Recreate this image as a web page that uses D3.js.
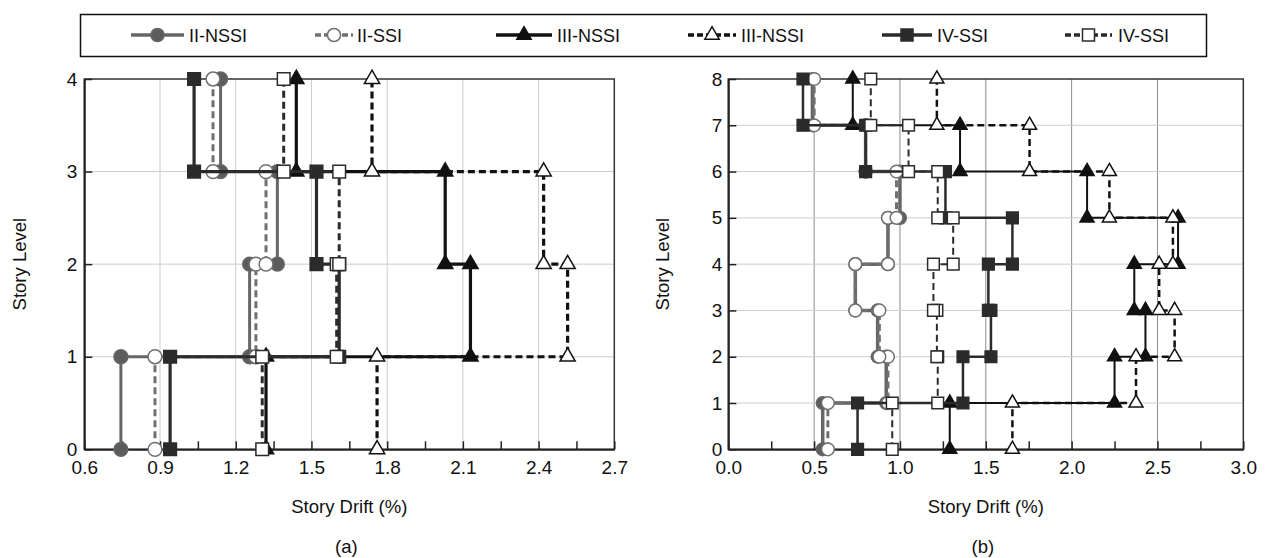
<!DOCTYPE html>
<html>
<head>
<meta charset="utf-8">
<script src="https://cdn.jsdelivr.net/npm/d3@7"></script>
<style>
  body { margin: 0; background: #fff; }
  text { font-family: "Liberation Sans", Arial, sans-serif; fill: #111; }
</style>
</head>
<body>
<svg id="chart" width="1269" height="558"></svg>
<script>
// legend labels (as printed in the original figure)
const seriesNames = ["II-NSSI", "II-SSI", "III-NSSI", "III-NSSI", "IV-SSI", "IV-SSI"];

// (a) 4-story frames: drift (%) of story 1..4
const aII_NSSI  = [0.745, 1.255, 1.365, 1.14];
const aII_SSI   = [0.88, 1.28, 1.32, 1.11];
const aIII_NSSI = [1.32, 2.13, 2.03, 1.44];
const aIII_SSI  = [1.76, 2.515, 2.42, 1.74];
const aIV_NSSI  = [0.94, 1.61, 1.52, 1.035];
const aIV_SSI   = [1.305, 1.60, 1.61, 1.39];

// (b) 8-story frames: drift (%) of story 1..8
const bII_NSSI  = [0.55, 0.92, 0.87, 0.74, 0.93, 1.00, 0.80, 0.49];
const bII_SSI   = [0.58, 0.93, 0.88, 0.74, 0.93, 0.98, 0.80, 0.50];
const bIII_NSSI = [1.29, 2.25, 2.43, 2.365, 2.62, 2.09, 1.35, 0.725];
const bIII_SSI  = [1.655, 2.375, 2.60, 2.51, 2.59, 2.22, 1.755, 1.215];
const bIV_NSSI  = [0.753, 1.367, 1.53, 1.515, 1.655, 1.265, 0.80, 0.435];
const bIV_SSI   = [0.955, 1.22, 1.215, 1.195, 1.31, 1.22, 1.05, 0.83];

// tick labels
const xTicksA = [0.6, 0.9, 1.2, 1.5, 1.8, 2.1, 2.4, 2.7];
const xTicksB = [0.0, 0.5, 1.0, 1.5, 2.0, 2.5, 3.0];
const levelsA = [0, 1, 2, 3, 4];
const levelsB = [0, 1, 2, 3, 4, 5, 6, 7, 8];

// look of each series (same order as seriesNames)
const styles = [
  { color: "#666", fill: "#5c5c5c", dash: null,  sym: d3.symbolCircle },
  { color: "#707070", fill: "#fff", dash: "7,4", sym: d3.symbolCircle },
  { color: "#111", fill: "#111", dash: null,     sym: d3.symbolTriangle },
  { color: "#111", fill: "#fff", dash: "7,4",    sym: d3.symbolTriangle },
  { color: "#2b2b2b", fill: "#2b2b2b", dash: null, sym: d3.symbolSquare },
  { color: "#2b2b2b", fill: "#fff", dash: "7,4", sym: d3.symbolSquare }
];

const svg = d3.select("#chart");
const fmt = d3.format(".1f");

function symSize(type, k) {
  if (type === d3.symbolCircle) return 150 * k;
  if (type === d3.symbolSquare) return 160 * k;
  return 100 * k;
}

function drawPanel(cfg) {
  const x = d3.scaleLinear().domain([cfg.xTicks[0], cfg.xTicks[cfg.xTicks.length - 1]])
    .range([cfg.left, cfg.right]);
  const y = d3.scaleLinear().domain([0, cfg.levels[cfg.levels.length - 1]])
    .range([cfg.bottom, cfg.top]);
  const g = svg.append("g");

  // grid
  g.selectAll(".vg").data(cfg.xTicks.slice(1, -1)).join("line")
    .attr("x1", d => x(d)).attr("x2", d => x(d))
    .attr("y1", cfg.top).attr("y2", cfg.bottom)
    .attr("stroke", cfg.vGrid).attr("stroke-width", 1);
  g.selectAll(".hg").data(cfg.levels.slice(1, -1)).join("line")
    .attr("x1", cfg.left).attr("x2", cfg.right)
    .attr("y1", d => y(d)).attr("y2", d => y(d))
    .attr("stroke", "#cccccc").attr("stroke-width", 1);

  // frame
  g.append("rect")
    .attr("x", cfg.left).attr("y", cfg.top)
    .attr("width", cfg.right - cfg.left).attr("height", cfg.bottom - cfg.top)
    .attr("fill", "none").attr("stroke", "#333").attr("stroke-width", 1.5);

  // axes, ticks point inwards
  const minor = d3.pairs(cfg.xTicks).map(p => (p[0] + p[1]) / 2);
  const allX = cfg.xTicks.concat(minor).sort((a, b) => a - b);
  const xa = g.append("g").attr("transform", `translate(0,${cfg.bottom})`)
    .call(d3.axisBottom(x).tickValues(allX).tickSize(-8).tickSizeOuter(0).tickPadding(11)
      .tickFormat(d => cfg.xTicks.some(t => Math.abs(t - d) < 1e-9) ? fmt(d) : ""));
  const ya = g.append("g").attr("transform", `translate(${cfg.left},0)`)
    .call(d3.axisLeft(y).tickValues(cfg.levels).tickSize(-8).tickSizeOuter(0).tickPadding(cfg.yPad)
      .tickFormat(d3.format("d")));
  [xa, ya].forEach(a => {
    a.select(".domain").attr("stroke", "#222").attr("stroke-width", 2);
    a.selectAll(".tick line").attr("stroke", "#222").attr("stroke-width", 1.5);
    a.selectAll("text").attr("font-size", 19).attr("fill", "#111")
      .style("font-family", "'Liberation Sans', Arial, sans-serif");
  });

  // step profiles
  const line = d3.line().x(d => x(d[0])).y(d => y(d[1]));
  cfg.series.forEach((drift, i) => {
    const st = styles[i];
    const pts = drift.flatMap((d, k) => [[d, k], [d, k + 1]]);
    g.append("path").datum(pts)
      .attr("d", line).attr("fill", "none")
      .attr("stroke", st.color).attr("stroke-width", cfg.widths[i])
      .attr("stroke-dasharray", st.dash);
    g.selectAll(null).data(pts).join("path")
      .attr("transform", d => `translate(${x(d[0])},${y(d[1])})`)
      .attr("d", d3.symbol().type(st.sym).size(symSize(st.sym, cfg.mk)))
      .attr("fill", st.fill).attr("stroke", st.color).attr("stroke-width", 1.5);
  });

  // axis titles
  const cx = (cfg.left + cfg.right) / 2;
  g.append("text").attr("x", cx).attr("y", 513).attr("text-anchor", "middle")
    .attr("font-size", 18.5).text("Story Drift (%)");
  g.append("text").attr("x", cx - 3).attr("y", 553).attr("text-anchor", "middle")
    .attr("font-size", 18.5).text(cfg.tag);
  g.append("text")
    .attr("transform", `translate(${cfg.titleX},${(cfg.top + cfg.bottom) / 2}) rotate(-90)`)
    .attr("text-anchor", "middle").attr("font-size", 18.5).text("Story Level");
}

drawPanel({
  left: 84.3, right: 614.3, top: 79, bottom: 449.3,
  xTicks: xTicksA, levels: levelsA, vGrid: "#cccccc", yPad: 7,
  series: [aII_NSSI, aII_SSI, aIII_NSSI, aIII_SSI, aIV_NSSI, aIV_SSI],
  widths: [3, 3, 3.2, 3.2, 3.2, 3], mk: 1, tag: "(a)", titleX: 26
});

drawPanel({
  left: 728.3, right: 1243.3, top: 79, bottom: 449.3,
  xTicks: xTicksB, levels: levelsB, vGrid: "#8c8c8c", yPad: 6,
  series: [bII_NSSI, bII_SSI, bIII_NSSI, bIII_SSI, bIV_NSSI, bIV_SSI],
  widths: [3.5, 3, 2, 2.5, 2.5, 2], mk: 0.85, tag: "(b)", titleX: 669
});

// legend
const legendPos = [
  { x0: 131, x1: 184, tx: 189 },
  { x0: 315, x1: 353, tx: 357 },
  { x0: 496, x1: 552, tx: 557 },
  { x0: 688, x1: 736, tx: 741 },
  { x0: 882, x1: 932, tx: 937 },
  { x0: 1065, x1: 1112, tx: 1118 }
];
const lg = svg.append("g");
lg.append("rect").attr("x", 80.5).attr("y", 14.5).attr("width", 1126).attr("height", 42)
  .attr("fill", "#fff").attr("stroke", "#111").attr("stroke-width", 1.5);
const items = lg.selectAll(".item").data(seriesNames).join("g")
  .attr("transform", "translate(0,35)");
items.append("line")
  .attr("x1", (d, i) => legendPos[i].x0).attr("x2", (d, i) => legendPos[i].x1)
  .attr("stroke", (d, i) => styles[i].color).attr("stroke-width", 3.5)
  .attr("stroke-dasharray", (d, i) => styles[i].dash ? "6,3" : null);
items.append("path")
  .attr("transform", (d, i) => `translate(${(legendPos[i].x0 + legendPos[i].x1) / 2},0)`)
  .attr("d", (d, i) => d3.symbol().type(styles[i].sym).size(symSize(styles[i].sym, 0.9))())
  .attr("fill", (d, i) => styles[i].fill).attr("stroke", (d, i) => styles[i].color)
  .attr("stroke-width", 1.5);
items.append("text")
  .attr("x", (d, i) => legendPos[i].tx).attr("y", 6.5)
  .attr("font-size", 18).text(d => d);
</script>
</body>
</html>
